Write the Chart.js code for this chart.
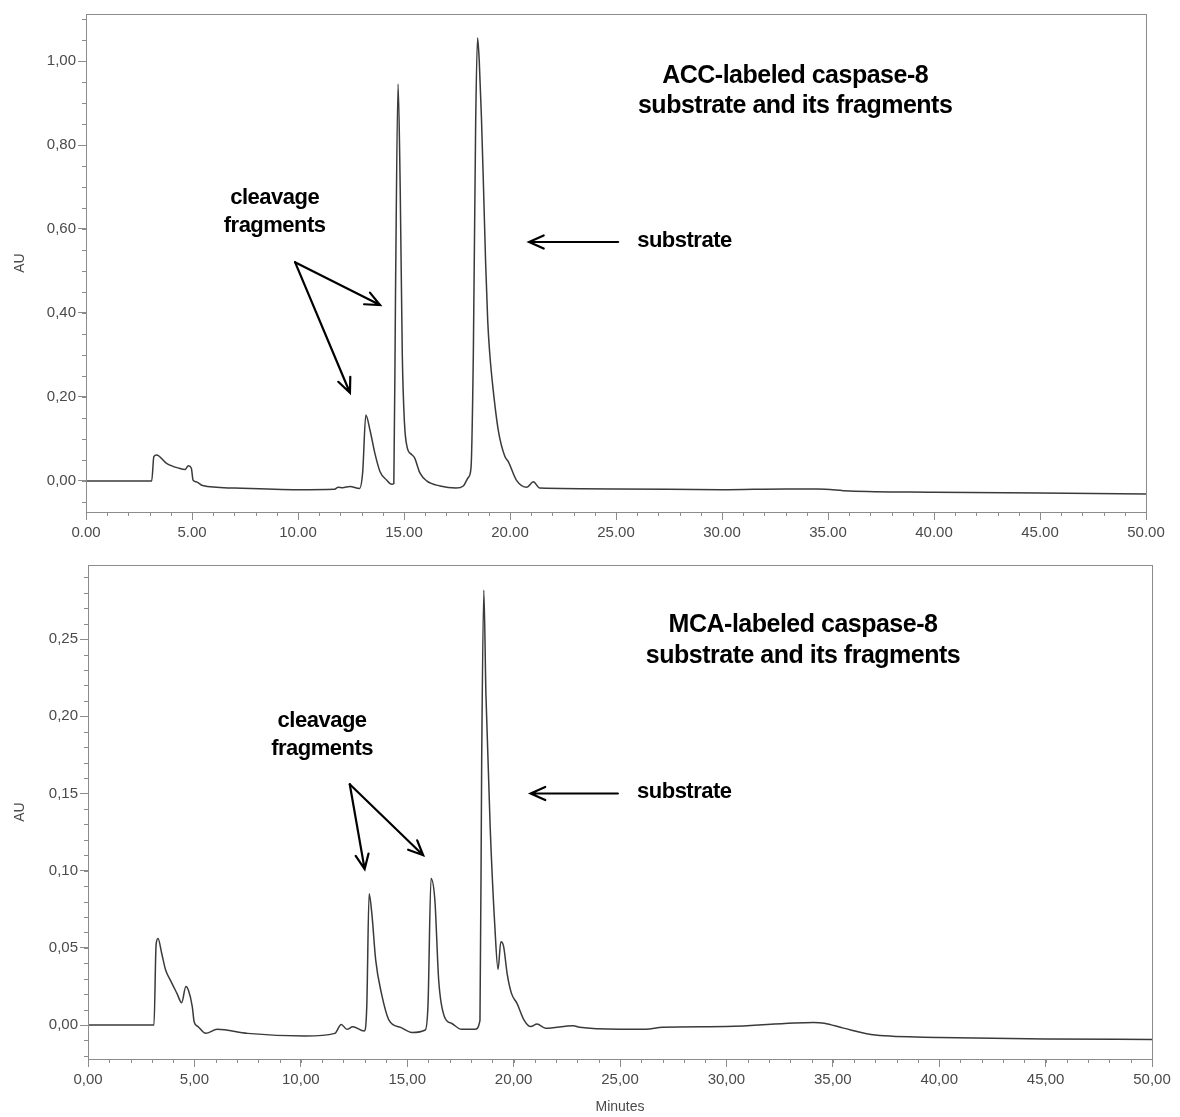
<!DOCTYPE html>
<html>
<head>
<meta charset="utf-8">
<script src="https://cdn.jsdelivr.net/npm/chart.js@4.4.1/dist/chart.umd.min.js"></script>
<style>
    body { margin: 0; background: #fff; }
    #topBox { position: absolute; left: 0; top: 0; width: 1180px; height: 550px; }
    #bottomBox { position: absolute; left: 0; top: 550px; width: 1180px; height: 567px; }
</style>
</head>
<body>
<div id="topBox"><canvas id="accChart"></canvas></div>
<div id="bottomBox"><canvas id="mcaChart"></canvas></div>
<script>
// ========================================
// DATA
// ========================================

// ACC-labeled substrate run: retention time (min) and absorbance (AU)
const accMinutes = [0, 3.1, 3.2, 3.33, 3.8, 4.4, 4.67, 4.83, 4.97, 5.05, 5.2, 5.5, 7.0, 10.0, 11.7, 11.9, 12.1, 12.45, 12.9,
    13.05, 13.2, 13.4, 13.63, 13.87, 14.18, 14.42, 14.52, 14.6, 14.72, 14.82, 14.92, 15.02, 15.15, 15.36, 15.5, 15.75,
    16.07, 16.7, 17.45, 17.8, 18.04, 18.16, 18.27, 18.38, 18.47, 18.55, 18.65, 18.75, 18.85, 18.95, 19.05, 19.2, 19.45,
    19.76, 19.92, 20.3, 20.8, 21.1, 21.4, 25, 30, 33, 34.5, 36, 40, 45, 50];
const accAU = [0, 0, 0.058, 0.062, 0.042, 0.030, 0.027, 0.036, 0.030, 0.002, -0.002, -0.011, -0.017, -0.021, -0.020, -0.015, -0.016, -0.013, -0.018,
    0.020, 0.157, 0.120, 0.065, 0.022, 0.002, -0.008, -0.006, 0.45, 0.945, 0.70, 0.30, 0.14, 0.08, 0.063, 0.055, 0.019,
    0.0, -0.012, -0.017, -0.012, 0.009, 0.031, 0.30, 0.85, 1.055, 1.0, 0.87, 0.70, 0.52, 0.38, 0.30, 0.22, 0.12,
    0.058, 0.046, 0.002, -0.015, -0.002, -0.017, -0.019, -0.021, -0.019, -0.019, -0.024, -0.027, -0.029, -0.031];

// MCA-labeled substrate run
const mcaMinutes = [0, 3.1, 3.2, 3.29, 3.47, 3.64, 3.91, 4.18, 4.4, 4.6, 4.72, 4.9, 4.99, 5.17, 5.53, 6.07, 7.5, 10.2, 11.6,
    11.9, 12.17, 12.44, 12.98, 13.1, 13.21, 13.34, 13.52, 13.79, 14.15, 14.69, 15.22, 15.85, 15.98, 16.12, 16.3, 16.48,
    16.75, 17.1, 17.56, 18.18, 18.42, 18.5, 18.6, 18.7, 18.9, 19.12, 19.27, 19.4, 19.53, 19.7, 19.9, 20.16, 20.5, 20.8,
    21.1, 21.5, 22.8, 23.1, 25, 26.2, 27, 30, 34.1, 34.6, 35.5, 37, 40, 45, 50];
const mcaAU = [0, 0, 0.052, 0.056, 0.046, 0.036, 0.028, 0.0205, 0.0145, 0.025, 0.0225, 0.012, 0.002, -0.001, -0.0054, -0.0028, -0.0054, -0.0071, -0.0054,
    0.0004, -0.0028, -0.0011, -0.0039, 0.012, 0.085, 0.072, 0.042, 0.0205, 0.003, -0.0015, -0.0048, -0.0032, 0.014, 0.095, 0.081, 0.029,
    0.0054, 0.001, -0.0028, -0.0028, 0.003, 0.171, 0.2817, 0.214, 0.128, 0.0635, 0.036, 0.054, 0.051, 0.033, 0.0205, 0.014, 0.003, -0.001,
    0.0006, -0.002, -0.0004, -0.0015, -0.0027, -0.0027, -0.0015, -0.001, 0.0017, 0.0012, -0.002, -0.0065, -0.008, -0.009, -0.0093];

// Axis ranges
const xRange = [0, 50];
const accRange = [-0.074, 1.112];
const mcaRange = [-0.022, 0.298];

// ========================================
// ANNOTATIONS (in data units: minutes, AU)
// ========================================
const accNotes = [
    { text: 'ACC-labeled caspase-8', x: 33.45, y: 0.965, size: 25 },
    { text: 'substrate and its fragments', x: 33.45, y: 0.892, size: 25 },
    { text: 'cleavage', x: 8.9, y: 0.675, size: 22 },
    { text: 'fragments', x: 8.9, y: 0.608, size: 22 },
    { text: 'substrate', x: 26.0, y: 0.572, size: 22, align: 'left' }
];
const accArrows = [
    { from: [9.86, 0.521], to: [13.87, 0.419] },
    { from: [9.86, 0.521], to: [12.45, 0.210] },
    { from: [25.1, 0.569], to: [20.9, 0.569] }
];
const mcaNotes = [
    { text: 'MCA-labeled caspase-8', x: 33.6, y: 0.259, size: 25 },
    { text: 'substrate and its fragments', x: 33.6, y: 0.239, size: 25 },
    { text: 'cleavage', x: 11.0, y: 0.197, size: 22 },
    { text: 'fragments', x: 11.0, y: 0.179, size: 22 },
    { text: 'substrate', x: 25.8, y: 0.151, size: 22, align: 'left' }
];
const mcaArrows = [
    { from: [12.3, 0.156], to: [13.0, 0.101] },
    { from: [12.3, 0.156], to: [15.75, 0.110] },
    { from: [24.9, 0.150], to: [20.8, 0.150] }
];

const AXIS_COLOR = '#8c8c8c';
const LABEL_COLOR = '#4a4a4a';
const TRACE_COLOR = '#3a3a3a';

// Frame, minor ticks and annotations
const chromPlugin = {
    id: 'chromPlugin',
    afterDraw(chart, args, opts) {
        const ctx = chart.ctx;
        const { left, right, top, bottom } = chart.chartArea;
        const xs = chart.scales.x;
        const ys = chart.scales.y;

        ctx.save();
        ctx.strokeStyle = AXIS_COLOR;
        ctx.lineWidth = 1;
        ctx.strokeRect(Math.round(left) + 0.5, Math.round(top) + 0.5, Math.round(right - left), Math.round(bottom - top));

        // minor ticks
        ctx.beginPath();
        for (let i = 0; i <= 50; i++) {
            const px = Math.round(xs.getPixelForValue(i)) + 0.5;
            ctx.moveTo(px, bottom);
            ctx.lineTo(px, bottom + 4);
        }
        const first = Math.ceil(ys.min / opts.yMinor - 1e-6);
        const last = Math.floor(ys.max / opts.yMinor + 1e-6);
        for (let i = first; i <= last; i++) {
            const py = Math.round(ys.getPixelForValue(i * opts.yMinor)) + 0.5;
            ctx.moveTo(left, py);
            ctx.lineTo(left - 4, py);
        }
        ctx.stroke();

        // arrows
        ctx.strokeStyle = '#000';
        ctx.lineWidth = 2.2;
        ctx.lineCap = 'round';
        opts.arrows.forEach(a => {
            const x1 = xs.getPixelForValue(a.from[0]), y1 = ys.getPixelForValue(a.from[1]);
            const x2 = xs.getPixelForValue(a.to[0]), y2 = ys.getPixelForValue(a.to[1]);
            const ang = Math.atan2(y2 - y1, x2 - x1);
            const head = 16;
            ctx.beginPath();
            ctx.moveTo(x1, y1);
            ctx.lineTo(x2, y2);
            ctx.moveTo(x2 - head * Math.cos(ang - 0.42), y2 - head * Math.sin(ang - 0.42));
            ctx.lineTo(x2, y2);
            ctx.lineTo(x2 - head * Math.cos(ang + 0.42), y2 - head * Math.sin(ang + 0.42));
            ctx.stroke();
        });

        // labels
        ctx.fillStyle = '#000';
        ctx.textBaseline = 'middle';
        opts.notes.forEach(n => {
            ctx.font = `bold ${n.size}px "Liberation Sans", Arial, sans-serif`;
            ctx.letterSpacing = '-0.5px';
            ctx.textAlign = n.align || 'center';
            ctx.fillText(n.text, xs.getPixelForValue(n.x), ys.getPixelForValue(n.y));
        });
        ctx.restore();
    }
};

function commaFmt(v) {
    return Number(v).toFixed(2).replace('.', ',');
}

function dotFmt(v) {
    return Number(v).toFixed(2);
}

function buildChart(canvasId, minutes, values, yRange, yStep, yMinor, xFmt, box, notes, arrows, xTitle) {
    const points = minutes.map((m, i) => ({ x: m, y: values[i] }));
    const tickFont = { family: '"Liberation Sans", Arial, sans-serif', size: 15 };

    return new Chart(document.getElementById(canvasId), {
        type: 'line',
        data: {
            datasets: [{
                data: points,
                borderColor: TRACE_COLOR,
                borderWidth: 1.5,
                pointRadius: 0,
                cubicInterpolationMode: 'monotone',
                fill: false
            }]
        },
        plugins: [chromPlugin],
        options: {
            responsive: true,
            maintainAspectRatio: false,
            animation: false,
            layout: { padding: { left: 0, right: box.right, top: box.top, bottom: 0 } },
            plugins: {
                legend: { display: false },
                tooltip: { enabled: false },
                chromPlugin: { yMinor: yMinor, notes: notes, arrows: arrows }
            },
            scales: {
                x: {
                    type: 'linear',
                    min: xRange[0],
                    max: xRange[1],
                    afterFit: s => { s.height = box.xHeight; },
                    border: { display: false },
                    grid: { drawOnChartArea: false, tickLength: 8, color: AXIS_COLOR },
                    ticks: { stepSize: 5, color: LABEL_COLOR, font: tickFont, padding: 4, maxRotation: 0, callback: xFmt },
                    title: {
                        display: !!xTitle,
                        text: xTitle,
                        color: LABEL_COLOR,
                        font: { family: '"Liberation Sans", Arial, sans-serif', size: 14 },
                        padding: { top: 0, bottom: 1 }
                    }
                },
                y: {
                    min: yRange[0],
                    max: yRange[1],
                    afterFit: s => { s.width = box.left; },
                    border: { display: false },
                    grid: { drawOnChartArea: false, tickLength: 8, color: AXIS_COLOR },
                    ticks: { stepSize: yStep, includeBounds: false, color: LABEL_COLOR, font: tickFont, padding: 2, callback: commaFmt },
                    title: {
                        display: true,
                        text: 'AU',
                        color: LABEL_COLOR,
                        font: { family: '"Liberation Sans", Arial, sans-serif', size: 14 },
                        padding: { top: 12, bottom: 0 }
                    }
                }
            }
        }
    });
}

// top: plot area 86..1146 x 14..512 inside a 550px tall box
buildChart('accChart', accMinutes, accAU, accRange, 0.2, 0.05, dotFmt,
    { left: 86, right: 34, top: 14, xHeight: 38 }, accNotes, accArrows, '');

// bottom: plot area 88..1152 x 565..1059 (page coords)
buildChart('mcaChart', mcaMinutes, mcaAU, mcaRange, 0.05, 0.01, commaFmt,
    { left: 88, right: 28, top: 15, xHeight: 58 }, mcaNotes, mcaArrows, 'Minutes');
</script>
</body>
</html>
